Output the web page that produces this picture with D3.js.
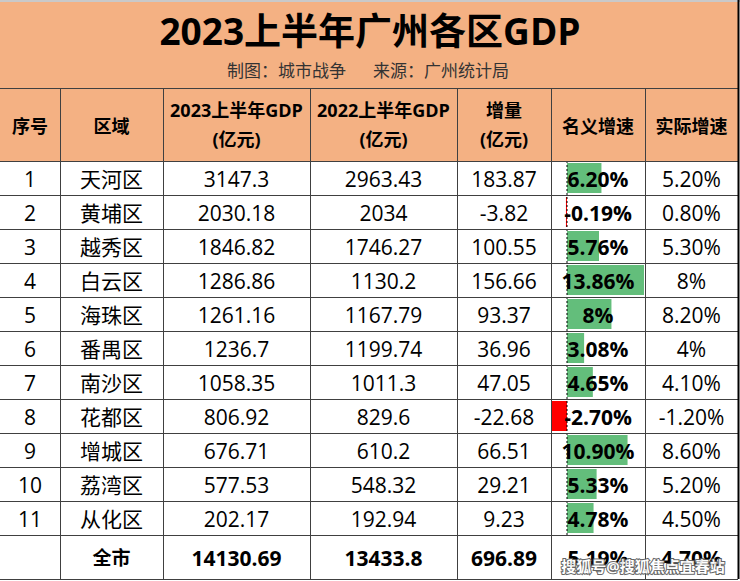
<!DOCTYPE html>
<html>
  <head>
    <meta charset="utf-8">
    <script src="https://d3js.org/d3.v7.min.js"></script>
    <style>
      body { margin: 0; background: #fff; }
      text { font-family: "Open Sans", "Noto Sans CJK SC", sans-serif; fill: #000; }
    </style>
  </head>
  <body>
    <script>

      const title = '2023上半年广州各区GDP';
      const credit = '制图：城市战争';
      const source = '来源：广州统计局';
      const headers = [
        ['序号'], ['区域'], ['2023上半年GDP', '(亿元)'], ['2022上半年GDP', '(亿元)'],
        ['增量', '(亿元)'], ['名义增速'], ['实际增速']
      ];

      const ids = ['1', '2', '3', '4', '5', '6', '7', '8', '9', '10', '11'];
      const districts = ['天河区', '黄埔区', '越秀区', '白云区', '海珠区', '番禺区', '南沙区', '花都区', '增城区', '荔湾区', '从化区'];
      const gdp2023 = ['3147.3', '2030.18', '1846.82', '1286.86', '1261.16', '1236.7', '1058.35', '806.92', '676.71', '577.53', '202.17'];
      const gdp2022 = ['2963.43', '2034', '1746.27', '1130.2', '1167.79', '1199.74', '1011.3', '829.6', '610.2', '548.32', '192.94'];
      const increase = ['183.87', '-3.82', '100.55', '156.66', '93.37', '36.96', '47.05', '-22.68', '66.51', '29.21', '9.23'];
      const nominalGrowth = [6.20, -0.19, 5.76, 13.86, 8, 3.08, 4.65, -2.70, 10.90, 5.33, 4.78];
      const nominalLabels = ['6.20%', '-0.19%', '5.76%', '13.86%', '8%', '3.08%', '4.65%', '-2.70%', '10.90%', '5.33%', '4.78%'];
      const realGrowth = ['5.20%', '0.80%', '5.30%', '8%', '8.20%', '4%', '4.10%', '-1.20%', '8.60%', '5.20%', '4.50%'];
      const totals = ['', '全市', '14130.69', '13433.8', '696.89', '5.19%', '4.70%'];
      const watermark = '搜狐号@搜狐焦点宜春站';

      const width = 740;
      const height = 581;
      const colEdges = [0, 60, 163, 310, 457, 551, 645, 738];
      const headerTop = 88, headerBottom = 161, bodyBottom = 535, tableBottom = 579;
      const orange = '#F4B183';
      const grid = '#404040';

      const svg = d3.select('body').append('svg')
        .attr('width', width)
        .attr('height', height);

      const colCenter = i => (colEdges[i] + colEdges[i + 1]) / 2;

      // rows
      const y = d3.scaleBand().domain(districts).range([headerBottom, bodyBottom]);

      // title + header backgrounds
      svg.append('rect').attr('x', 0).attr('y', 0).attr('width', 738).attr('height', headerBottom).attr('fill', orange);
      svg.append('rect').attr('x', 0).attr('y', 0).attr('width', width).attr('height', 2).attr('fill', '#c9c9c9');

      svg.append('text')
        .attr('x', 370).attr('y', 45)
        .attr('text-anchor', 'middle')
        .style('font-size', '37px').style('font-weight', 'bold')
        .text(title);
      svg.append('text')
        .attr('x', 227).attr('y', 77)
        .style('font-size', '17px').style('fill', '#333')
        .text(credit);
      svg.append('text')
        .attr('x', 373).attr('y', 77)
        .style('font-size', '17px').style('fill', '#333')
        .text(source);

      // header cells
      headers.forEach((lines, i) => {
        const t = svg.append('text')
          .attr('x', colCenter(i))
          .attr('text-anchor', 'middle')
          .style('font-size', '18px').style('font-weight', 'bold');
        if (lines.length === 1) {
          t.attr('y', 126).attr('dominant-baseline', 'central').text(lines[0]);
        } else {
          t.append('tspan').attr('x', colCenter(i)).attr('y', 117).text(lines[0]);
          t.append('tspan').attr('x', colCenter(i)).attr('y', 146).text(lines[1]);
        }
      });

      // data bars (名义增速)
      const xBar = d3.scaleLinear()
        .domain([d3.min(nominalGrowth), d3.max(nominalGrowth)])
        .range([colEdges[5] + 1, colEdges[6] - 1]);

      svg.selectAll('.bar')
        .data(nominalGrowth)
        .enter()
        .append('rect')
        .attr('class', 'bar')
        .attr('x', d => Math.min(xBar(0), xBar(d)))
        .attr('y', (d, i) => y(districts[i]) + 2)
        .attr('width', d => Math.max(1, Math.abs(xBar(d) - xBar(0))))
        .attr('height', y.bandwidth() - 4)
        .attr('fill', d => d < 0 ? '#FF0000' : '#63BE7B');

      svg.append('line')
        .attr('x1', xBar(0)).attr('x2', xBar(0))
        .attr('y1', headerBottom).attr('y2', bodyBottom)
        .attr('stroke', '#000').attr('stroke-width', 1)
        .attr('stroke-dasharray', '2,2');

      // body text
      const columns = [ids, districts, gdp2023, gdp2022, increase, nominalLabels, realGrowth];
      columns.forEach((col, c) => {
        svg.selectAll('.c' + c)
          .data(col)
          .enter()
          .append('text')
          .attr('class', 'c' + c)
          .attr('x', colCenter(c))
          .attr('y', (d, i) => y(districts[i]) + y.bandwidth() / 2 + 1)
          .attr('text-anchor', 'middle')
          .attr('dominant-baseline', 'central')
          .style('font-size', '21px')
          .style('font-weight', c === 5 ? 'bold' : 'normal')
          .text(d => d);
      });

      // total row
      svg.selectAll('.total')
        .data(totals)
        .enter()
        .append('text')
        .attr('class', 'total')
        .attr('x', (d, i) => colCenter(i))
        .attr('y', (bodyBottom + tableBottom) / 2 + 1)
        .attr('text-anchor', 'middle')
        .attr('dominant-baseline', 'central')
        .style('font-size', (d, i) => i === 1 ? '19px' : '21px')
        .style('font-weight', 'bold')
        .text(d => d);

      // grid lines
      const hLines = [headerTop, headerBottom].concat(districts.map(d => y(d) + y.bandwidth()), [tableBottom]);
      svg.selectAll('.hline')
        .data(hLines)
        .enter()
        .append('line')
        .attr('x1', 0).attr('x2', 738)
        .attr('y1', d => Math.round(d) + 0.5).attr('y2', d => Math.round(d) + 0.5)
        .attr('stroke', grid).attr('stroke-width', 1);

      svg.selectAll('.vline')
        .data(colEdges.slice(1))
        .enter()
        .append('line')
        .attr('x1', d => d + 0.5).attr('x2', d => d + 0.5)
        .attr('y1', (d, i) => i === colEdges.length - 2 ? 0 : headerTop)
        .attr('y2', tableBottom)
        .attr('stroke', (d, i) => i === colEdges.length - 2 ? '#000' : grid)
        .attr('stroke-width', (d, i) => i === colEdges.length - 2 ? 2 : 1);

      // watermark (overlaps the total row, as in the source image)
      svg.append('text')
        .attr('x', 643).attr('y', 566)
        .attr('text-anchor', 'middle')
        .attr('dominant-baseline', 'central')
        .style('font-size', '15px').style('font-weight', 'bold')
        .style('fill', '#fff')
        .style('stroke', '#555').style('stroke-width', 2)
        .style('paint-order', 'stroke')
        .style('opacity', 0.9)
        .text(watermark);

      </script>
  </body>
</html>
